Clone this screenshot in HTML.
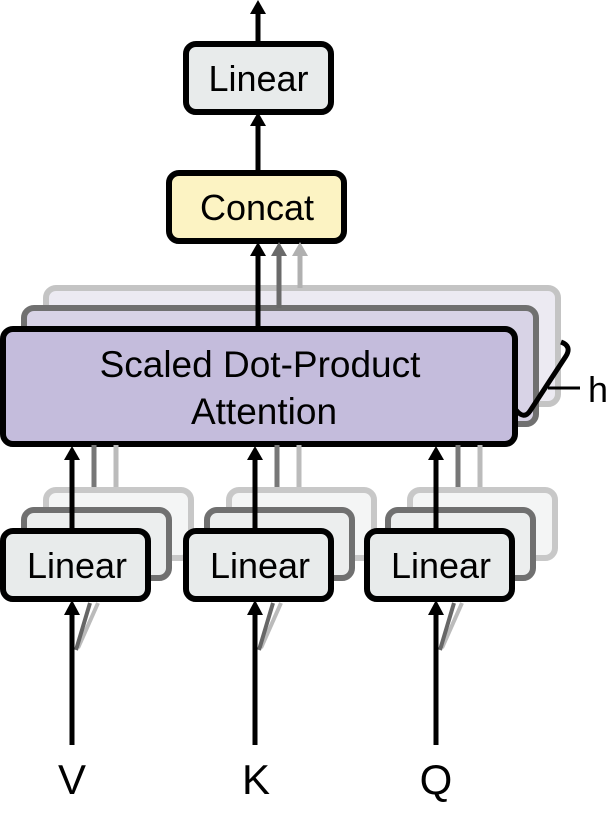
<!DOCTYPE html>
<html><head><style>
body{margin:0;background:#fff;}
svg{display:block;font-family:"Liberation Sans",sans-serif;}
</style></head><body>
<svg width="613" height="833" viewBox="0 0 613 833">
<g stroke-linecap="butt">
<line x1="258" y1="42" x2="258" y2="12" stroke="#000" stroke-width="5"/>
<path d="M250,14 L258,0 L266,14Z"/>
<rect x="186" y="44" width="145" height="68" rx="10" fill="#e8ebeb" stroke="#000" stroke-width="6"/>
<text x="258.5" y="91" font-size="36" text-anchor="middle">Linear</text>
<line x1="258" y1="172" x2="258" y2="124" stroke="#000" stroke-width="5"/>
<path d="M250,126 L258,112 L266,126Z"/>
<rect x="169" y="173" width="175" height="68" rx="10" fill="#fcf3c3" stroke="#000" stroke-width="6"/>
<text x="257" y="220" font-size="36" text-anchor="middle">Concat</text>

<rect x="46" y="288" width="512" height="116" rx="10" fill="#eceaf2" stroke="#c4c4c4" stroke-width="6"/>
<line x1="300" y1="288" x2="300" y2="254" stroke="#b0b0b0" stroke-width="5"/>
<path d="M292,256 L300,242 L308,256Z" fill="#b0b0b0"/>
<rect x="24" y="308" width="512" height="116" rx="10" fill="#d8d3e6" stroke="#707070" stroke-width="6"/>
<line x1="279" y1="308" x2="279" y2="254" stroke="#6a6a6a" stroke-width="5"/>
<path d="M271,256 L279,242 L287,256Z" fill="#6a6a6a"/>
<rect x="3" y="329" width="512" height="115" rx="10" fill="#c4bcdc" stroke="#000" stroke-width="6"/>
<line x1="258" y1="329" x2="258" y2="254" stroke="#000" stroke-width="5"/>
<path d="M250,256 L258,242 L266,256Z"/>
<text x="260" y="377" font-size="37" text-anchor="middle">Scaled Dot-Product</text>
<text x="264" y="424" font-size="37" text-anchor="middle">Attention</text>
<path d="M561,342 Q572,346 566,356 L530,411 Q524,420 516,410" fill="none" stroke="#000" stroke-width="5"/>
<line x1="548" y1="388" x2="580" y2="388" stroke="#000" stroke-width="3"/>
<text x="588" y="402" font-size="36">h</text>
</g>

<g id="s">
<line x1="116" y1="488" x2="116" y2="445" stroke="#bbb" stroke-width="5"/>
<line x1="94" y1="508" x2="94" y2="445" stroke="#777" stroke-width="5"/>
<rect x="46" y="490" width="145" height="68" rx="10" fill="#f4f5f5" stroke="#c8c8c8" stroke-width="6"/>
<rect x="24" y="510" width="145" height="68" rx="10" fill="#eceeee" stroke="#707070" stroke-width="6"/>
<line x1="72" y1="530" x2="72" y2="458" stroke="#000" stroke-width="5"/>
<path d="M64,460 L72,446 L80,460Z"/>
<rect x="3" y="531" width="145" height="68" rx="10" fill="#e8ebeb" stroke="#000" stroke-width="6"/>
<text x="77" y="578" font-size="36" text-anchor="middle">Linear</text>
<line x1="78" y1="648" x2="98" y2="603" stroke="#bbb" stroke-width="4"/>
<line x1="76" y1="650" x2="90" y2="603" stroke="#666" stroke-width="4"/>
<line x1="72" y1="745" x2="72" y2="613" stroke="#000" stroke-width="5"/>
<path d="M64,615 L72,600 L80,615Z"/>
</g>
<use href="#s" x="183"/>
<use href="#s" x="364"/>

<text x="72" y="794" font-size="42" text-anchor="middle">V</text>
<text x="256" y="794" font-size="42" text-anchor="middle">K</text>
<text x="436" y="794" font-size="42" text-anchor="middle">Q</text>
</svg>
</body></html>
